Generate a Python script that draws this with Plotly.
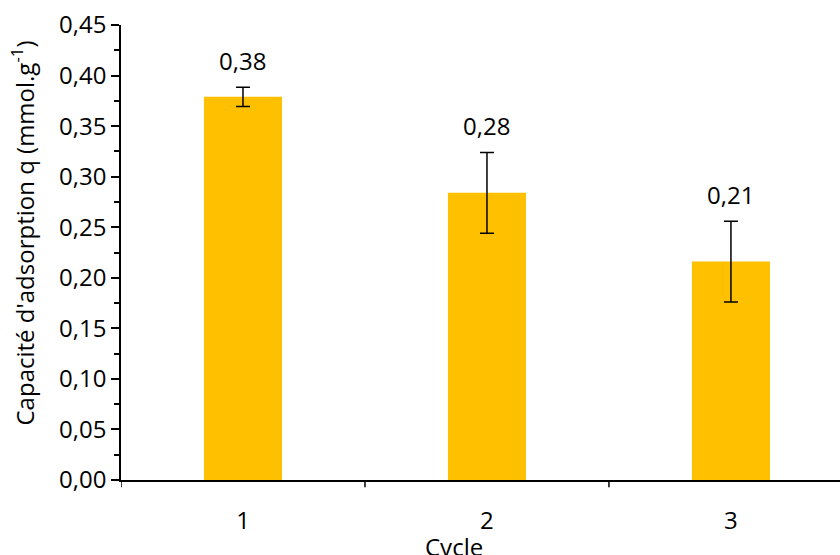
import plotly.graph_objects as go

cycles = ["1", "2", "3"]
capacity = [0.379, 0.284, 0.216]
errors = [0.0095, 0.040, 0.040]
labels = ["0,38", "0,28", "0,21"]
y_ticks = [0, 0.05, 0.10, 0.15, 0.20, 0.25, 0.30, 0.35, 0.40, 0.45]
y_tick_text = ["0,00", "0,05", "0,10", "0,15", "0,20", "0,25", "0,30", "0,35", "0,40", "0,45"]

FONT = "Open Sans"
FS = 24
x_pos = [1, 2, 3]

fig = go.Figure()
fig.add_trace(go.Bar(
    x=x_pos, y=capacity, width=0.32,
    marker=dict(color="#FFC000", line=dict(width=0)),
    error_y=dict(type="data", array=errors, visible=True, color="black", thickness=1.5, width=7),
    hoverinfo="skip",
))

for xp, c, e, lab in zip(x_pos, capacity, errors, labels):
    fig.add_annotation(x=xp, y=c + e, text=lab, showarrow=False, yshift=27,
                       xanchor="center", yanchor="middle",
                       font=dict(family=FONT, size=FS, color="black"))

fig.update_layout(
    width=840, height=555,
    margin=dict(l=121, r=0, t=25, b=75),
    paper_bgcolor="white", plot_bgcolor="white",
    showlegend=False,
    font=dict(family=FONT, size=FS, color="black"),
    xaxis=dict(
        range=[0.5, 3.447], tickvals=x_pos, ticktext=cycles,
        showline=True, linecolor="black", linewidth=1.5,
        ticks="", showgrid=False, zeroline=False,
        ticklabelstandoff=18,
        tickfont=dict(family=FONT, size=FS),
    ),
    yaxis=dict(
        range=[0, 0.45], tickvals=y_ticks, ticktext=y_tick_text,
        showline=True, linecolor="black", linewidth=1.5,
        ticks="outside", ticklen=8, tickwidth=1.5, tickcolor="black",
        minor=dict(ticks="outside", ticklen=5, tickwidth=1.5, tickcolor="black", dtick=0.025),
        showgrid=False, zeroline=False,
        tickfont=dict(family=FONT, size=FS),
    ),
)

for xb in [0.5, 1.5, 2.5]:
    fig.add_shape(type="line", xref="x", yref="paper", x0=xb, x1=xb, y0=0, y1=-0.016,
                  line=dict(color="black", width=1.5))

fig.add_annotation(text="Cycle", xref="paper", yref="paper", x=(454 - 121) / 719, y=-0.105,
                   xanchor="center", yanchor="top", showarrow=False,
                   font=dict(family=FONT, size=FS))
fig.add_annotation(text="Capacité d'adsorption q (mmol.g<sup>-1</sup>)", xref="paper", yref="paper",
                   x=-0.137, y=(480 - 233) / 455, textangle=-90,
                   xanchor="center", yanchor="middle", showarrow=False,
                   font=dict(family=FONT, size=FS))

fig.write_html("out.html", config={"displayModeBar": False},
               post_script="document.body.style.margin='0';document.body.style.overflow='hidden';")
